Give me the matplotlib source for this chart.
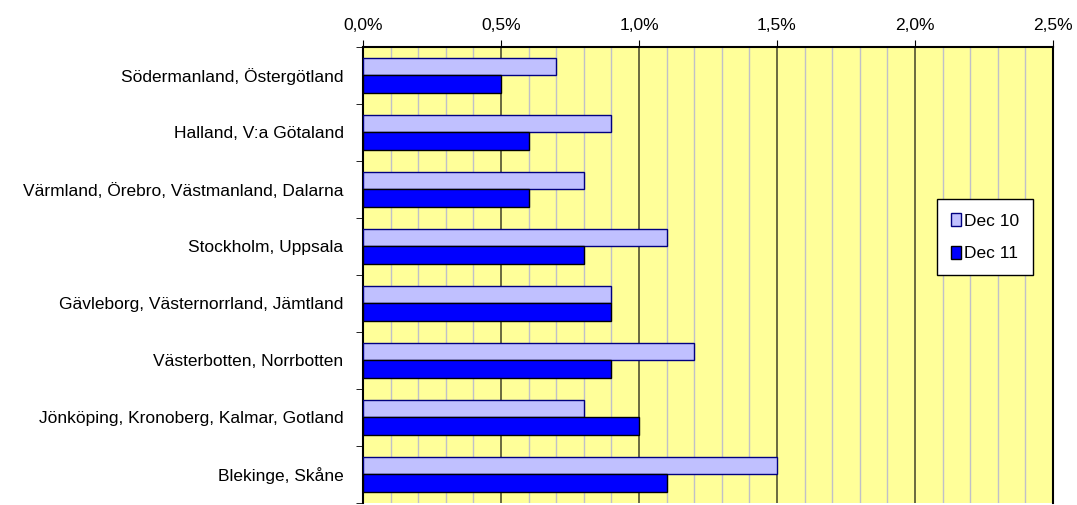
import numpy as np
import matplotlib
matplotlib.use("Agg")
import matplotlib.pyplot as plt
from matplotlib.ticker import FuncFormatter, MultipleLocator

plt.rcParams['font.family'] = ['Liberation Sans', 'DejaVu Sans']

regions = [
    "Södermanland, Östergötland",
    "Halland, V:a Götaland",
    "Värmland, Örebro, Västmanland, Dalarna",
    "Stockholm, Uppsala",
    "Gävleborg, Västernorrland, Jämtland",
    "Västerbotten, Norrbotten",
    "Jönköping, Kronoberg, Kalmar, Gotland",
    "Blekinge, Skåne",
]
dec10 = [0.7, 0.9, 0.8, 1.1, 0.9, 1.2, 0.8, 1.5]
dec11 = [0.5, 0.6, 0.6, 0.8, 0.9, 0.9, 1.0, 1.1]

fig = plt.figure(figsize=(10.77, 5.05), dpi=100)
ax = fig.add_axes([0.337, 0.004, 0.6407, 0.903])
ax.set_facecolor('#FFFF99')

y = np.arange(len(regions))
h = 0.3
ax.barh(y - h / 2, dec10, height=h, color='#C0C0FF', edgecolor='#000080',
        linewidth=1, label='Dec 10', zorder=3)
ax.barh(y + h / 2, dec11, height=h, color='#0000FF', edgecolor='black',
        linewidth=1, label='Dec 11', zorder=3)

ax.set_xlim(0, 2.5)
ax.set_ylim(len(regions) - 0.5, -0.5)

fs = 12.5
ax.xaxis.set_major_locator(MultipleLocator(0.5))
ax.xaxis.set_minor_locator(MultipleLocator(0.1))
ax.xaxis.set_major_formatter(FuncFormatter(lambda v, p: f"{v:.1f}%".replace('.', ',')))
ax.xaxis.tick_top()
ax.tick_params(axis='x', which='major', direction='out', length=5, labelsize=fs, pad=5)
ax.tick_params(axis='x', which='minor', length=0)
ax.grid(axis='x', which='minor', color='#C0C0C8', linewidth=1, zorder=1)
ax.grid(axis='x', which='major', color='#505030', linewidth=1.2, zorder=2)

ax.set_yticks(y)
ax.set_yticklabels(regions, fontsize=fs)
ax.set_yticks(np.arange(len(regions) + 1) - 0.5, minor=True)
ax.tick_params(axis='y', which='major', length=0, pad=14)
ax.tick_params(axis='y', which='minor', direction='out', length=5)

for s in ['top', 'right', 'left']:
    ax.spines[s].set_color('black')
    ax.spines[s].set_linewidth(1.5)
ax.spines['bottom'].set_visible(False)

leg = ax.legend(loc='upper left', bbox_to_anchor=(0.82, 0.685), fontsize=fs,
                frameon=True, fancybox=False, edgecolor='black', framealpha=1,
                handlelength=0.55, handleheight=0.75, handletextpad=0.2,
                labelspacing=1.0, borderpad=0.8)
leg.get_frame().set_linewidth(1)

fig.savefig('out.png', dpi=100)
